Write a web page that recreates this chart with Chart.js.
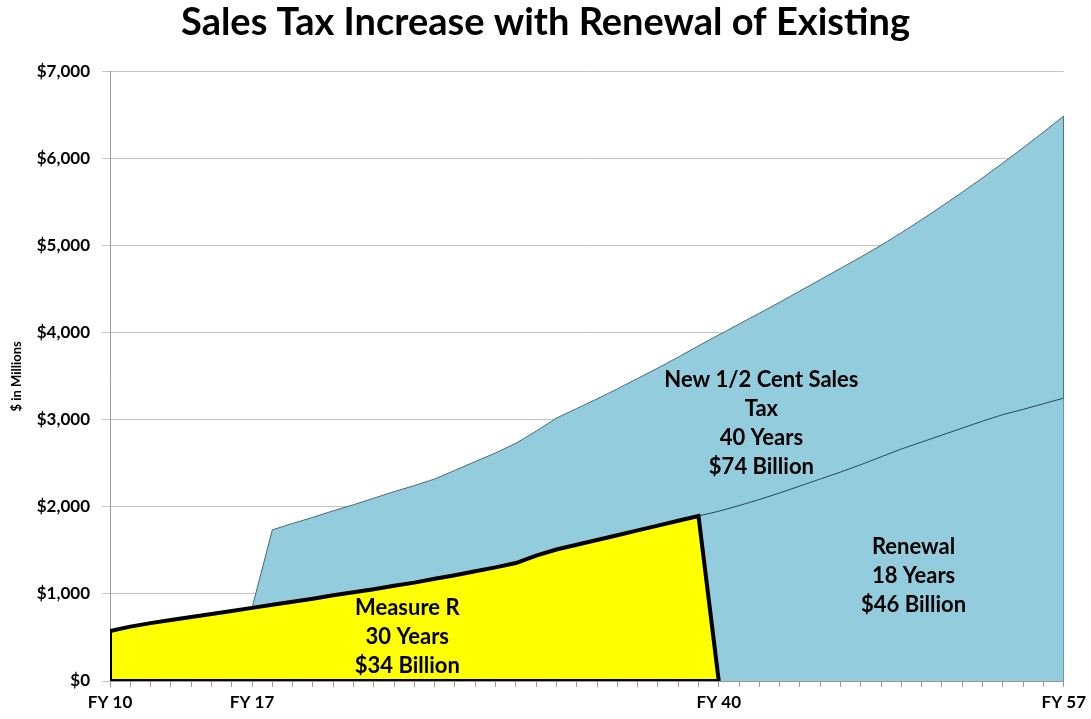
<!DOCTYPE html>
<html>
<head>
<meta charset="utf-8">
<script src="https://cdn.jsdelivr.net/npm/chart.js@4.4.1/dist/chart.umd.min.js"></script>
<style>
  html, body { margin: 0; padding: 0; background: #fff; }
  #wrap { width: 1091px; height: 719px; }
</style>
</head>
<body>
<div id="wrap"><canvas id="chart"></canvas></div>
<script>
// Fiscal years on the x axis and the ones that get a label
const tickLabelYears = [10, 17, 40, 57];

// Measure R (existing half cent), FY10 - FY39, ends at FY40
const measureYears = [10, 11, 12, 13, 14, 15, 16, 17, 18, 19, 20, 21, 22, 23, 24, 25,
  26, 27, 28, 29, 30, 31, 32, 33, 34, 35, 36, 37, 38, 39, 40];
const measureR = [575, 625, 665, 700, 735, 770, 805, 840, 875, 910, 945, 985, 1020, 1055, 1095, 1130,
  1175, 1215, 1260, 1305, 1355, 1440, 1510, 1565, 1620, 1675, 1730, 1785, 1840, 1895, 0];

// Renewal of the existing tax (top of renewal band), FY39 - FY57
const renewalYears = [39, 40, 41, 42, 43, 44, 45, 46, 47, 48, 49, 50, 51, 52, 53, 54, 55, 56, 57];
const renewal = [1895, 1950, 2015, 2085, 2160, 2240, 2320, 2400, 2485, 2575, 2665, 2745, 2825,
  2905, 2985, 3060, 3120, 3185, 3250];

// Total including the new half cent sales tax, FY17 - FY57
const newYears = [17, 18, 19, 20, 21, 22, 23, 24, 25, 26, 27, 28, 29, 30, 31, 32, 33, 34, 35, 36,
  37, 38, 39, 40, 41, 42, 43, 44, 45, 46, 47, 48, 49, 50, 51, 52, 53, 54, 55, 56, 57];
const newTotal = [840, 1736, 1810, 1880, 1955, 2025, 2100, 2175, 2245, 2320, 2420, 2520, 2620, 2730,
  2870, 3020, 3130, 3240, 3355, 3475, 3595, 3720, 3850, 3975, 4100, 4225, 4350, 4480, 4610, 4740,
  4870, 5005, 5150, 5300, 5455, 5615, 5780, 5950, 6125, 6305, 6490];

// Text blocks inside the areas: [center year, top value, lines]
const areaLabels = [
  [42.1, 3460, ['New 1/2 Cent Sales', 'Tax', '40 Years', '$74 Billion']],
  [49.6, 1540, ['Renewal', '18 Years', '$46 Billion']],
  [24.65, 839, ['Measure R', '30 Years', '$34 Billion']]
];

const BLUE = '#93cddd';
const YELLOW = '#ffff00';

Chart.defaults.font.family = 'Lato, "Open Sans", sans-serif';
Chart.defaults.color = '#000';

const toPoints = (xs, ys) => xs.map((x, i) => ({ x: x, y: ys[i] }));

// Measure R starts on the base so its border also runs up the left edge
const measurePoints = [{ x: measureYears[0], y: 0 }].concat(toPoints(measureYears, measureR));
// black base under the Measure R block
const measureBase = [
  { x: measureYears[0], y: 0 },
  { x: measureYears[measureYears.length - 1], y: 0 }
];

const newPoints = toPoints(newYears, newTotal)
  .concat([{ x: newYears[newYears.length - 1], y: 0 }]);

const areaText = {
  id: 'areaText',
  afterDatasetsDraw(chart) {
    const { ctx, scales } = chart;
    ctx.save();
    ctx.fillStyle = '#000';
    ctx.font = 'bold 22px Lato, "Open Sans", sans-serif';
    ctx.textAlign = 'center';
    ctx.textBaseline = 'middle';
    areaLabels.forEach(([yr, val, lines]) => {
      const x = scales.x.getPixelForValue(yr);
      const y = scales.y.getPixelForValue(val);
      lines.forEach((t, i) => ctx.fillText(t, x, y + i * 29));
    });
    ctx.restore();
  }
};

new Chart(document.getElementById('chart'), {
  type: 'line',
  data: {
    datasets: [
      {
        label: 'base',
        data: measureBase,
        borderColor: '#000',
        borderWidth: 4,
        fill: false,
        pointRadius: 0
      },
      {
        label: 'Measure R',
        data: measurePoints,
        borderColor: '#000',
        borderWidth: 4,
        backgroundColor: YELLOW,
        fill: 'origin',
        pointRadius: 0,
        tension: 0
      },
      {
        label: 'Renewal',
        data: toPoints(renewalYears, renewal),
        borderColor: '#24485a',
        borderWidth: 1,
        backgroundColor: BLUE,
        fill: 'origin',
        pointRadius: 0,
        tension: 0
      },
      {
        label: 'New 1/2 Cent Sales Tax',
        data: newPoints,
        borderColor: '#4a6a78',
        borderWidth: 1,
        backgroundColor: BLUE,
        fill: 'origin',
        pointRadius: 0,
        tension: 0
      }
    ]
  },
  options: {
    responsive: true,
    maintainAspectRatio: false,
    animation: false,
    layout: { padding: { left: 0, right: 0, top: 0, bottom: 0 } },
    plugins: {
      legend: { display: false },
      tooltip: { enabled: false },
      title: {
        display: true,
        text: 'Sales Tax Increase with Renewal of Existing',
        font: { size: 38, weight: 'bold' },
        color: '#000',
        padding: { top: 0, bottom: 26 }
      }
    },
    scales: {
      x: {
        type: 'linear',
        min: 10,
        max: 57,
        afterFit: (scale) => { scale.height = 38; },
        ticks: {
          stepSize: 1,
          autoSkip: false,
          maxRotation: 0,
          padding: 5,
          font: { size: 17, weight: 'bold' },
          callback: (v) => tickLabelYears.includes(v) ? 'FY ' + v : ''
        },
        grid: { drawOnChartArea: false, tickLength: 6, color: '#999' },
        border: { color: '#999' }
      },
      y: {
        min: 0,
        max: 7000,
        afterFit: (scale) => { scale.width = 110; },
        ticks: {
          stepSize: 1000,
          padding: 12,
          font: { size: 17, weight: 'bold' },
          callback: (v) => '$' + v.toLocaleString('en-US')
        },
        grid: { color: '#c4c4c4', tickLength: 8 },
        border: { color: '#999' },
        title: {
          display: true,
          text: '$ in Millions',
          font: { size: 13, weight: 'bold' },
          padding: { top: 9, bottom: 0 }
        }
      }
    }
  },
  plugins: [areaText]
});
</script>
</body>
</html>
